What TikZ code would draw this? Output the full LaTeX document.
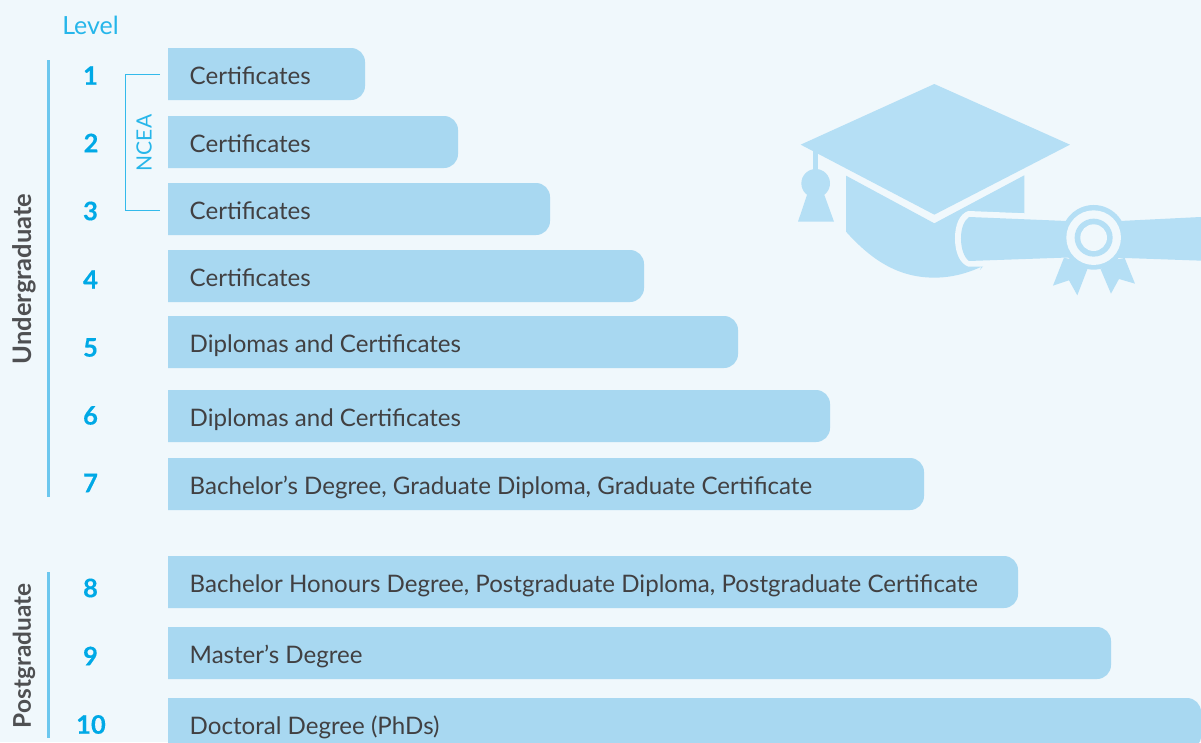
\documentclass[tikz,border=0pt]{standalone}
\usepackage{fontspec}
\setmainfont{Lato}
\newfontfamily\numfont[FakeBold=0.35]{Lato Bold}
\definecolor{bgc}{HTML}{F0F8FC}
\definecolor{barc}{HTML}{A8D8F1}
\definecolor{iconc}{HTML}{B5DFF5}
\definecolor{txtc}{HTML}{414042}
\definecolor{numc}{HTML}{00A9E6}
\definecolor{linec}{HTML}{6CC7EE}
\definecolor{sidec}{HTML}{4F5052}
\tikzset{
  bartext/.style={anchor=base west,inner sep=0pt,text=txtc,font=\fontsize{24.1}{28}\selectfont},
  barbox/.style={fill=barc,rounded corners=14pt},
  levelnum/.style={inner sep=0pt,text=numc,font=\fontsize{25.5}{28}\numfont},
  sidelabel/.style={inner sep=0pt,rotate=90,text=sidec,font=\fontsize{25.5}{28}\selectfont\bfseries},
  siderule/.style={draw=linec,line width=3pt},
  bracket/.style={draw=numc!80!white,line width=1.1pt},
  iconfill/.style={fill=iconc},
  gapfill/.style={fill=bgc}
}
% name, top y, right x, text
\newcommand{\levelbar}[4]{%
  \fill[barbox] (168,#2) -- (#3,#2) -- (#3,#2+52) [sharp corners] -- (168,#2+52) -- cycle;
  \node[bartext] (#1) at (189.5,#2+36) {#4};
}
\begin{document}
\begin{tikzpicture}[x=1pt,y=-1pt]
\useasboundingbox (0,0) rectangle (1201,742);
\clip (0,0) rectangle (1201,742);
\fill[bgc] (0,0) rectangle (1201,742);

% graduation cap and scroll
\begin{scope}[shift={(780,70)},x=0.3333pt,y=-0.3333pt]
  \fill[iconfill] (463,42) -- (870,224) -- (463,434) -- (62,224) -- cycle;
  \fill[iconfill] (98,235) rectangle (115,310);
  \fill[iconfill] (107,340) circle[radius=43];
  \fill[iconfill] (82,372) -- (54,455) -- (162,455) -- (132,372) -- cycle;
  \fill[iconfill] (198,317) -- (463,460) -- (733,316) -- (733,440) -- (600,600) -- (605,590)
     .. controls (540,620) and (490,623) .. (463,623)
     .. controls (350,623) and (270,565) .. (198,485) -- cycle;
  \fill[gapfill] (565,423) -- (860,435) -- (860,590) -- (565,590)
     .. controls (538,580) and (525,545) .. (525,505)
     .. controls (525,465) and (538,432) .. (565,423) -- cycle;
  \fill[iconfill] (567,441) -- (860,453) -- (1020,453) -- (1263,441) -- (1263,572) -- (1034,564) -- (852,563) -- (567,573)
     .. controls (552,562) and (543,535) .. (543,505)
     .. controls (543,475) and (552,452) .. (567,441) -- cycle;
  \fill[iconfill] (941,502) circle[radius=97];
  \fill[iconfill] (852,563) -- (819,647) -- (867,631) -- (892,676) -- (922,598) -- (880,570) -- cycle;
  \fill[iconfill] (962,598) -- (993,671) -- (1017,627) -- (1065,641) -- (1034,564) -- (1000,570) -- cycle;
  \fill[gapfill] (941,503) circle[radius=82];
  \fill[iconfill] (941,503) circle[radius=57];
  \fill[gapfill] (941,503) circle[radius=40];
\end{scope}

% bars
\levelbar{b1}{48}{365}{Certificates}
\levelbar{b2}{116}{458}{Certificates}
\levelbar{b3}{183}{550}{Certificates}
\levelbar{b4}{250}{644}{Certificates}
\levelbar{b5}{316}{738}{Diplomas and Certificates}
\levelbar{b6}{390}{830}{Diplomas and Certificates}
\levelbar{b7}{458}{924}{Bachelor’s Degree, Graduate Diploma, Graduate Certificate}
\levelbar{b8}{556}{1018}{Bachelor Honours Degree, Postgraduate Diploma, Postgraduate Certificate}
\levelbar{b9}{627}{1111}{Master’s Degree}
\levelbar{b10}{698}{1201}{Doctoral Degree (PhDs)}

% heading and level numbers
\node[inner sep=0pt,text=numc!85!white,font=\fontsize{25}{28}\selectfont] (level) at (90.5,25) {Level};
\node[levelnum] (n1) at (90.5,75.5) {1};
\node[levelnum] (n2) at (91,143) {2};
\node[levelnum] (n3) at (90.5,211) {3};
\node[levelnum] (n4) at (90.5,279.5) {4};
\node[levelnum] (n5) at (90.5,347.5) {5};
\node[levelnum] (n6) at (90.5,415.5) {6};
\node[levelnum] (n7) at (90.5,483) {7};
\node[levelnum] (n8) at (90.5,588) {8};
\node[levelnum] (n9) at (90.5,656) {9};
\node[levelnum] (n10) at (91,724.5) {10};

% side rules and labels
\coordinate (ugtop) at (48.5,60);
\coordinate (ugbot) at (48.5,497);
\coordinate (pgtop) at (48.5,572);
\coordinate (pgbot) at (48.5,738);
\draw[siderule] (ugtop) -- (ugbot);
\draw[siderule] (pgtop) -- (pgbot);
\node[sidelabel] (ug) at (24,279) {Undergraduate};
\node[sidelabel,font=\fontsize{24.4}{28}\selectfont\bfseries] (pg) at (24,656) {Postgraduate};

% NCEA bracket
\coordinate (nceaA) at (160,74.5);
\coordinate (nceaB) at (125.5,74.5);
\coordinate (nceaC) at (125.5,210.5);
\coordinate (nceaD) at (160,210.5);
\draw[bracket] (nceaA) -- (nceaB) -- (nceaC) -- (nceaD);
\node[inner sep=0pt,rotate=90,text=numc!85!white,font=\fontsize{21}{24}\selectfont] (ncea) at (144,143) {NCEA};
\end{tikzpicture}
\end{document}
